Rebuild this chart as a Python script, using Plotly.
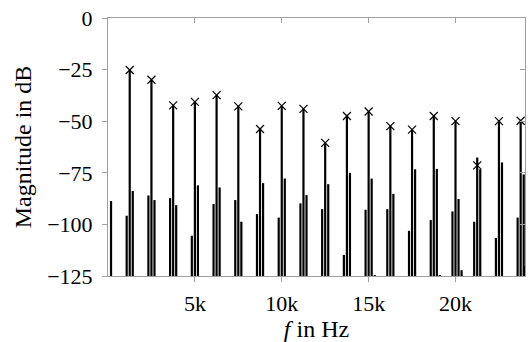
import plotly.graph_objects as go

# ---- data (frequencies in Hz, magnitudes in dB) ----
f0 = 1250.0          # harmonic spacing
sb = 175.0           # sideband offset
harmonic_idx = list(range(1, 20))
main_db = [-25.2, -29.9, -42.3, -40.6, -37.4, -42.8, -53.8, -42.6, -44.0, -61.0,
           -47.5, -45.3, -52.4, -54.1, -47.5, -50.0, -67.6, -50.0, -49.8]
peak_db = [-25.2, -29.9, -42.3, -40.6, -37.4, -42.8, -53.8, -42.6, -44.0, -60.5,
           -47.5, -45.3, -52.4, -54.1, -47.5, -50.0, -71.4, -50.0, -49.8]
left_db = [-95.8, -86.0, -87.3, -105.5, -90.1, -88.2, -95.0, -96.7, -89.8, -92.6,
           -114.8, -92.9, -92.6, -103.1, -97.9, -93.7, -98.7, -106.6, -96.7]
right_db = [-83.8, -88.2, -90.7, -81.1, -82.1, -98.7, -80.0, -77.8, -85.8, -80.5,
            -75.0, -77.8, -85.2, -73.3, -73.1, -87.7, -73.3, -70.0, -75.8]
extra_f = [175.0, 15350.0, 19100.0, 20350.0, 23980.0]
extra_db = [-88.7, -124.5, -124.5, -122.2, -120.1]

x_tickvals = [5000, 10000, 15000, 20000]
x_ticktext = ["5k", "10k", "15k", "20k"]
y_tickvals = [0, -25, -50, -75, -100, -125]

base = -125.0
x_range = [0, 24000]
y_range = [-125, 0]

# ---- build stems ----
stem_f, stem_db = [], []
for k, m, l, r in zip(harmonic_idx, main_db, left_db, right_db):
    fc = k * f0
    stem_f += [fc - sb, fc, fc + sb]
    stem_db += [l, m, r]
stem_f += extra_f
stem_db += extra_db

sx, sy = [], []
for f, v in zip(stem_f, stem_db):
    sx += [f, f, None]
    sy += [base, v, None]

peak_f = [k * f0 for k in harmonic_idx]

fig = go.Figure()
fig.add_trace(go.Scatter(x=sx, y=sy, mode="lines",
                         line=dict(color="black", width=2.2),
                         hoverinfo="skip", showlegend=False))
fig.add_trace(go.Scatter(x=peak_f, y=peak_db, mode="markers",
                         marker=dict(symbol="x-thin", size=8,
                                     line=dict(color="black", width=1.2)),
                         showlegend=False))
# invisible trace for mirrored (inside) ticks on top/right
fig.add_trace(go.Scatter(x=[None], y=[None], xaxis="x2", yaxis="y2",
                         showlegend=False, hoverinfo="skip"))

fam = "Liberation Serif, Times New Roman, serif"
tfont = dict(family=fam, size=22, color="black")
ttl = dict(family=fam, size=24, color="black")
axcol = "#a0a0a0"

fig.update_layout(
    width=531, height=342,
    margin=dict(l=108, r=6, t=16, b=61),
    paper_bgcolor="white", plot_bgcolor="white",
    font=tfont,
    xaxis=dict(range=x_range, tickvals=x_tickvals, ticktext=x_ticktext,
               showgrid=False, zeroline=False, showline=True,
               linecolor=axcol, linewidth=1, ticks="outside", ticklen=5,
               tickcolor=axcol, tickfont=tfont, ticklabelstandoff=3,
               title=dict(text="<i>f</i> in Hz", font=ttl, standoff=3)),
    yaxis=dict(range=y_range, tickvals=y_tickvals,
               showgrid=False, zeroline=False, showline=True,
               linecolor=axcol, linewidth=1, ticks="outside", ticklen=5,
               tickcolor=axcol, tickfont=tfont, ticklabelstandoff=5,
               title=dict(text="Magnitude in dB", font=ttl, standoff=8)),
    xaxis2=dict(range=x_range, tickvals=x_tickvals, overlaying="x",
                side="top", showticklabels=False, showgrid=False,
                zeroline=False, showline=True, linecolor=axcol,
                ticks="inside", ticklen=5, tickcolor=axcol, anchor="y2"),
    yaxis2=dict(range=y_range, tickvals=y_tickvals, overlaying="y",
                side="right", showticklabels=False, showgrid=False,
                zeroline=False, showline=True, linecolor=axcol,
                ticks="inside", ticklen=5, tickcolor=axcol, anchor="x2"),
)

fig.write_html("out.html")
